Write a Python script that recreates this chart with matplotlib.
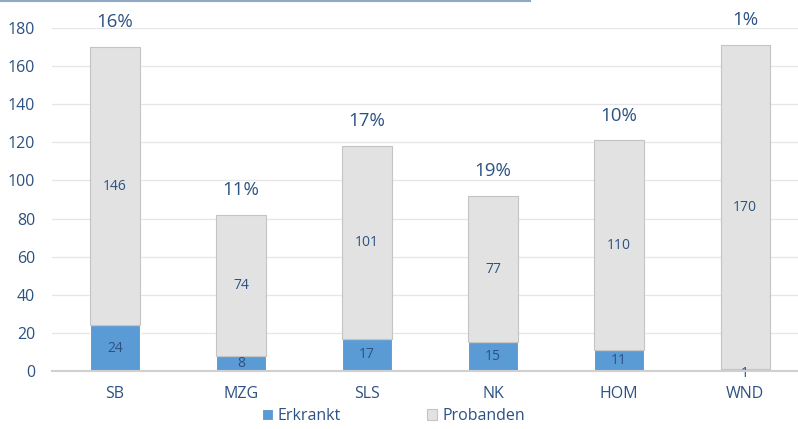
import numpy as np
import matplotlib
matplotlib.use("Agg")
import matplotlib.pyplot as plt
from matplotlib.lines import Line2D

plt.rcParams['font.family'] = ['Open Sans', 'DejaVu Sans']

# data
sites = ["SB", "MZG", "SLS", "NK", "HOM", "WND"]
erkrankt = [24, 8, 17, 15, 11, 1]
probanden = [146, 74, 101, 77, 110, 170]
percent = ["16%", "11%", "17%", "19%", "10%", "1%"]
yticks = [0, 20, 40, 60, 80, 100, 120, 140, 160, 180]

txt = "#2b5282"
blue = "#5b9bd5"
grey = "#e2e2e2"

fig = plt.figure(figsize=(7.98, 4.29), dpi=100)
ax = fig.add_axes([52 / 798, (429 - 371) / 429, 1 - 52 / 798, (371 - 28) / 429])

x = np.arange(len(sites))
w = 0.39
ax.bar(x, erkrankt, w, color=blue, edgecolor="white", linewidth=0.8, label="Erkrankt", zorder=3)
ax.bar(x, probanden, w, bottom=erkrankt, color=grey, edgecolor="#c4c4c4", linewidth=0.8,
       label="Probanden", zorder=3)

for i in range(len(sites)):
    ax.text(x[i], erkrankt[i] / 2 if erkrankt[i] > 3 else -1.5, str(erkrankt[i]),
            ha="center", va="center", color=txt, fontsize=10, zorder=4)
    ax.text(x[i], erkrankt[i] + probanden[i] / 2, str(probanden[i]),
            ha="center", va="center", color=txt, fontsize=10, zorder=4)
    ax.text(x[i], erkrankt[i] + probanden[i] + 13, percent[i],
            ha="center", va="center", color=txt, fontsize=13.5, clip_on=False, zorder=4)

ax.set_xlim(-0.5, 5.42)
ax.set_ylim(0, 180)
ax.set_yticks(yticks)
ax.set_xticks(x)
ax.set_xticklabels(sites)
ax.tick_params(axis="both", length=0, colors=txt, labelsize=11.5)
ax.tick_params(axis="x", pad=11)
ax.tick_params(axis="y", pad=12)
ax.grid(axis="y", color="#e6e6e6", linewidth=0.9, zorder=0)
for s in ["top", "right", "left"]:
    ax.spines[s].set_visible(False)
ax.spines["bottom"].set_color("#d0d0d0")
ax.spines["bottom"].set_linewidth(1.5)
ax.spines["bottom"].set_zorder(5)

leg = ax.legend(loc="center", bbox_to_anchor=(0.458, -0.131), ncol=2, frameon=False,
                fontsize=11.5, handlelength=0.65, handleheight=0.65, handletextpad=0.3,
                columnspacing=5.4, borderpad=0)
for t in leg.get_texts():
    t.set_color(txt)

# cropped line at the top edge of the picture
fig.add_artist(Line2D([0, 530 / 798], [0.997, 0.997], color="#8fa8c4", linewidth=1.5))

fig.savefig("out.png", dpi=100)
